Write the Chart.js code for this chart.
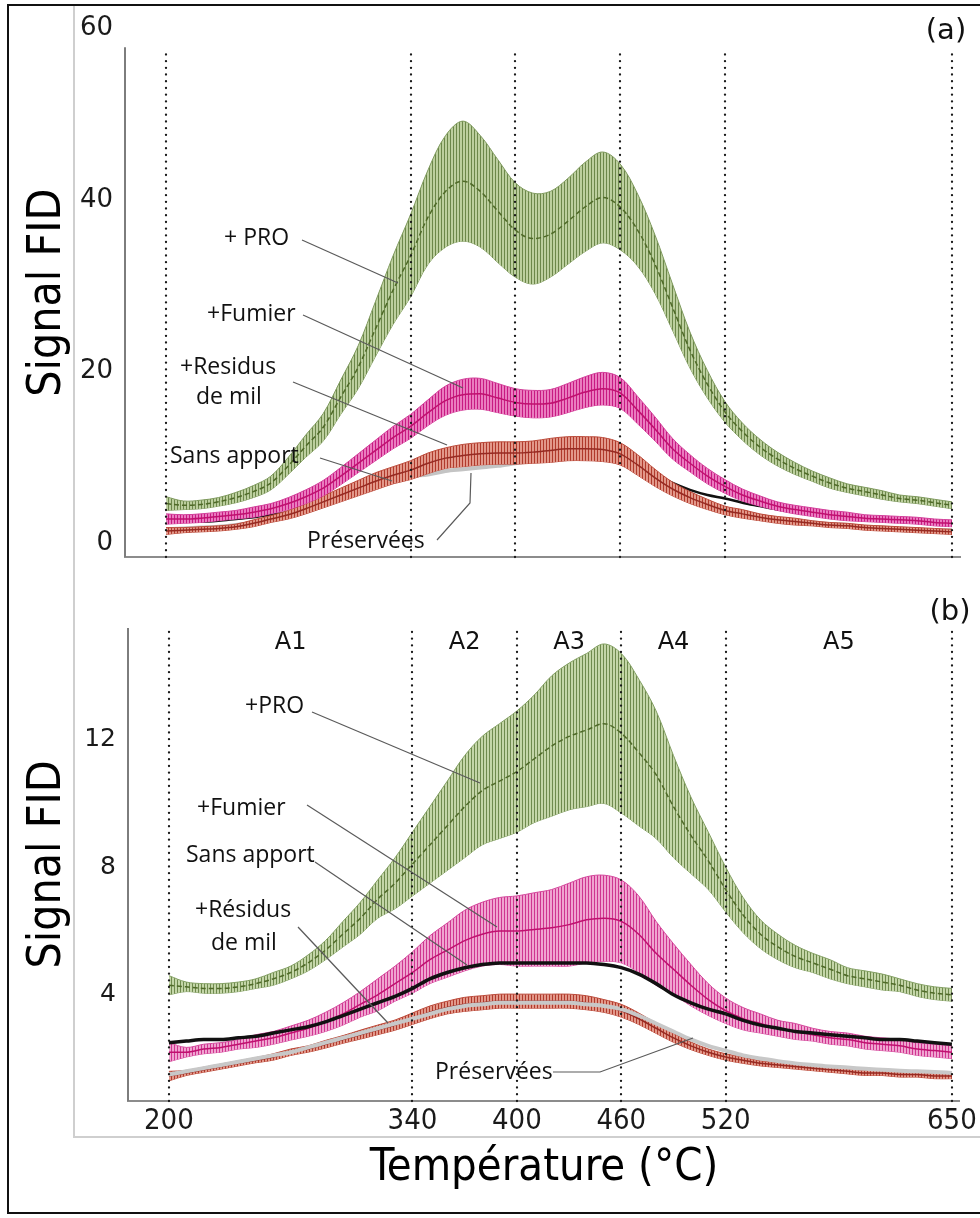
<!DOCTYPE html>
<html>
<head>
<meta charset="utf-8">
<script src="https://cdn.jsdelivr.net/npm/chart.js@4.4.0/dist/chart.umd.min.js"></script>
<style>
  body { margin: 0; background: #fff; width: 980px; height: 1218px; position: relative; overflow: hidden; }
  #outer { position: absolute; left: 7px; top: 4px; width: 975px; height: 1206px; border-left: 2px solid #111; border-top: 2px solid #111; border-bottom: 2px solid #111; }
  #inner { position: absolute; left: 73px; top: 6px; width: 910px; height: 1130px; border-left: 2px solid #cfcfcf; border-bottom: 2px solid #cfcfcf; }
  #ca { position: absolute; left: 0; top: 0; }
  #cb { position: absolute; left: 0; top: 590px; }
</style>
</head>
<body>
<div id="outer"></div>
<div id="inner"></div>
<canvas id="ca" width="980" height="590"></canvas>
<canvas id="cb" width="980" height="628"></canvas>
<script>
// Température (°C), un point tous les 10 °C
const temps = [200,210,220,230,240,250,260,270,280,290,300,310,320,330,340,350,360,370,380,390,400,410,420,430,440,450,460,470,480,490,500,510,520,530,540,550,560,570,580,590,600,610,620,630,640,650];

// (a) Signal FID
const proA = [4.6,4.4,4.5,4.8,5.3,6.0,7.0,9.0,11.3,13.5,17.0,20.5,25.0,29.5,33.5,38.0,41.0,42.2,41.0,38.7,36.5,35.5,36.0,37.5,39.2,40.3,39.2,36.5,32.5,27.5,22.5,18.5,15.3,13.0,11.2,9.8,8.7,7.8,7.0,6.4,6.0,5.6,5.2,5.0,4.7,4.4];
const proAErr = [0.8,0.5,0.5,0.5,0.6,0.7,0.8,1.0,1.3,1.6,2.0,2.5,3.2,4.0,4.8,5.5,6.5,7.0,6.5,6.0,5.5,5.3,5.0,5.0,5.2,5.3,5.0,4.2,3.4,2.7,2.1,1.6,1.2,1.0,0.9,0.8,0.7,0.6,0.6,0.5,0.5,0.5,0.4,0.4,0.4,0.4];
const fumierA = [2.8,2.8,2.9,3.1,3.3,3.6,4.0,4.6,5.4,6.4,7.8,9.3,10.8,12.3,13.6,15.2,16.6,17.3,17.4,16.9,16.4,16.2,16.3,16.9,17.6,18.0,17.5,15.5,13.3,11.0,9.3,7.8,6.6,5.6,4.9,4.3,3.9,3.6,3.3,3.1,2.9,2.8,2.7,2.6,2.4,2.3];
const fumierAErr = [0.6,0.5,0.5,0.5,0.5,0.6,0.6,0.7,0.8,0.9,1.0,1.1,1.2,1.3,1.4,1.5,1.7,1.8,1.8,1.7,1.6,1.6,1.6,1.7,1.8,1.9,1.8,1.6,1.4,1.2,1.0,0.9,0.8,0.7,0.6,0.5,0.5,0.5,0.5,0.5,0.4,0.4,0.4,0.4,0.4,0.4];
const residusA = [1.4,1.5,1.6,1.7,1.9,2.3,2.8,3.3,4.0,4.8,5.6,6.4,7.2,7.9,8.5,9.3,9.9,10.2,10.4,10.5,10.5,10.6,10.8,11.0,11.0,10.9,10.4,9.1,7.6,6.3,5.3,4.5,3.8,3.4,3.0,2.7,2.5,2.3,2.1,2.0,1.8,1.7,1.6,1.5,1.4,1.3];
const residusAErr = [0.4,0.3,0.3,0.3,0.3,0.4,0.4,0.5,0.6,0.7,0.8,0.9,1.0,1.0,1.1,1.2,1.2,1.3,1.3,1.3,1.3,1.3,1.4,1.4,1.4,1.4,1.3,1.2,1.0,0.8,0.7,0.6,0.5,0.5,0.4,0.4,0.4,0.3,0.3,0.3,0.3,0.3,0.3,0.3,0.3,0.3];
const sansA = [2.5,2.5,2.5,2.6,2.8,3.0,3.3,3.6,4.1,4.7,5.3,6.0,6.6,7.2,7.8,8.6,9.3,9.8,10.1,10.2,10.3,10.4,10.5,10.6,10.6,10.5,10.1,9.1,8.0,7.0,6.2,5.6,5.2,4.7,4.3,3.9,3.6,3.3,3.1,2.9,2.8,2.7,2.6,2.5,2.5,2.4];
const preservA = [1.6,1.7,1.8,1.9,2.1,2.4,2.8,3.3,3.9,4.6,5.3,6.0,6.7,7.3,7.8,8.0,8.4,8.6,8.8,9.0,9.3,9.6,9.9,10.0,10.0,10.0,9.7,8.9,7.7,6.5,5.5,4.7,4.0,3.5,3.1,2.8,2.6,2.4,2.2,2.1,1.9,1.8,1.7,1.6,1.5,1.5];

// (b) Signal FID
const proB = [4.3,4.25,4.2,4.2,4.25,4.35,4.5,4.7,5.0,5.4,5.9,6.4,7.0,7.5,8.1,8.7,9.3,9.9,10.4,10.7,11.0,11.4,11.8,12.1,12.3,12.5,12.2,11.6,10.9,9.9,9.0,8.2,7.3,6.5,5.9,5.5,5.2,5.0,4.8,4.6,4.5,4.4,4.3,4.15,4.05,4.0];
const proBErr = [0.3,0.15,0.15,0.15,0.15,0.15,0.2,0.2,0.25,0.3,0.4,0.5,0.6,0.8,1.0,1.2,1.4,1.6,1.7,1.8,1.9,2.0,2.2,2.3,2.4,2.5,2.5,2.3,2.0,1.6,1.2,0.9,0.7,0.55,0.45,0.4,0.35,0.3,0.3,0.25,0.25,0.25,0.2,0.2,0.2,0.2];
const fumierB = [2.2,2.2,2.3,2.35,2.45,2.55,2.65,2.8,2.95,3.15,3.4,3.7,4.0,4.35,4.7,5.1,5.4,5.7,5.9,6.0,6.0,6.05,6.1,6.2,6.35,6.4,6.3,5.9,5.3,4.8,4.3,3.85,3.5,3.25,3.1,2.95,2.85,2.75,2.65,2.6,2.5,2.45,2.4,2.3,2.25,2.2];
const fumierBErr = [0.3,0.15,0.15,0.15,0.15,0.2,0.2,0.22,0.25,0.3,0.35,0.4,0.5,0.55,0.65,0.75,0.85,0.95,1.0,1.05,1.1,1.15,1.2,1.3,1.35,1.35,1.3,1.2,1.0,0.8,0.65,0.5,0.4,0.35,0.3,0.25,0.25,0.2,0.2,0.2,0.2,0.2,0.2,0.2,0.2,0.2];
const residusB = [1.45,1.55,1.65,1.75,1.85,1.95,2.05,2.2,2.3,2.45,2.6,2.75,2.9,3.05,3.25,3.45,3.6,3.7,3.75,3.8,3.8,3.8,3.8,3.8,3.75,3.65,3.5,3.25,2.95,2.65,2.4,2.2,2.05,1.95,1.85,1.8,1.75,1.7,1.65,1.6,1.55,1.55,1.5,1.5,1.45,1.45];
const residusBErr = [0.15,0.08,0.08,0.08,0.08,0.08,0.1,0.1,0.1,0.12,0.12,0.14,0.15,0.16,0.18,0.2,0.2,0.22,0.22,0.22,0.22,0.22,0.22,0.22,0.22,0.2,0.2,0.18,0.16,0.14,0.12,0.1,0.1,0.1,0.08,0.08,0.08,0.08,0.08,0.08,0.08,0.08,0.08,0.08,0.08,0.08];
const sansB = [2.5,2.55,2.6,2.6,2.65,2.7,2.8,2.9,3.0,3.15,3.35,3.55,3.75,3.95,4.2,4.5,4.7,4.85,4.95,5.0,5.0,5.0,5.0,5.0,5.0,4.95,4.85,4.65,4.35,4.0,3.75,3.55,3.4,3.2,3.05,2.95,2.85,2.8,2.75,2.7,2.65,2.6,2.6,2.55,2.5,2.45];
const preservB = [1.5,1.6,1.7,1.8,1.9,2.0,2.1,2.2,2.35,2.5,2.65,2.8,2.95,3.1,3.25,3.4,3.55,3.65,3.7,3.75,3.75,3.75,3.75,3.75,3.7,3.65,3.55,3.35,3.1,2.85,2.6,2.4,2.25,2.1,2.0,1.92,1.85,1.8,1.75,1.72,1.68,1.65,1.62,1.6,1.58,1.55];

// ticks et zones
const xTicks = [200, 340, 400, 460, 520, 650];
const yTicksA = [0, 20, 40, 60];
const yTicksB = [4, 8, 12];
const zones = ['A1', 'A2', 'A3', 'A4', 'A5'];

const COND = "'DejaVu Sans Condensed', 'Liberation Sans Narrow', 'DejaVu Sans', sans-serif";
const VERD = "'DejaVu Sans', Verdana, sans-serif";
const LAB = "'Open Sans', 'Noto Sans', sans-serif";

function stripes(canvasId, base, line) {
  const c = document.createElement('canvas');
  c.width = 3; c.height = 4;
  const g = c.getContext('2d');
  g.fillStyle = base; g.fillRect(0, 0, 3, 4);
  g.fillStyle = line; g.fillRect(0, 0, 1, 4);
  return document.getElementById(canvasId).getContext('2d').createPattern(c, 'repeat');
}

function pts(vals) {
  return vals.map((v, i) => ({ x: temps[i], y: v }));
}

function line(label, vals, color, width, dash) {
  return { label: label, data: pts(vals), borderColor: color, borderWidth: width, borderDash: dash || [],
           pointRadius: 0, fill: false, tension: 0.35, cubicInterpolationMode: 'monotone' };
}

function band(label, mean, err, pattern, edge) {
  return [
    { label: label + ' haut', data: pts(mean.map((m, i) => m + err[i])), borderColor: edge, borderWidth: 1,
      backgroundColor: pattern, fill: '+1', pointRadius: 0, tension: 0.35 },
    { label: label + ' bas', data: pts(mean.map((m, i) => m - err[i])), borderColor: edge, borderWidth: 1,
      fill: false, pointRadius: 0, tension: 0.35 }
  ];
}

// lignes pointillées, axe y, étiquettes et traits de rappel
const decor = {
  id: 'decor',
  afterDatasetsDraw(chart, args, o) {
    const { ctx, chartArea, scales: { x, y } } = chart;
    ctx.save();
    ctx.strokeStyle = '#1a1a1a';
    ctx.lineWidth = 2.3;
    ctx.lineCap = 'round';
    ctx.setLineDash([0.1, 6.6]);
    xTicks.forEach(t => {
      const px = Math.round(x.getPixelForValue(t));
      ctx.beginPath();
      ctx.moveTo(px, chartArea.bottom);
      ctx.lineTo(px, o.dotTop);
      ctx.stroke();
    });
    ctx.setLineDash([]);
    ctx.lineCap = 'butt';

    // axe y
    ctx.strokeStyle = '#7d7d7d';
    ctx.lineWidth = 2;
    ctx.beginPath();
    ctx.moveTo(chartArea.left, chartArea.bottom);
    ctx.lineTo(chartArea.left, y.getPixelForValue(o.axisTop));
    ctx.stroke();

    // traits de rappel
    ctx.strokeStyle = '#5a5a5a';
    ctx.lineWidth = 1.2;
    o.leaders.forEach(p => {
      ctx.beginPath();
      ctx.moveTo(p[0], p[1]);
      for (let i = 2; i < p.length; i += 2) ctx.lineTo(p[i], p[i + 1]);
      ctx.stroke();
    });

    ctx.fillStyle = '#111';
    ctx.textBaseline = 'middle';
    ctx.textAlign = 'left';
    ctx.font = '23px ' + LAB;
    o.labels.forEach(l => ctx.fillText(l[0], l[1], l[2]));

    ctx.textAlign = 'center';
    ctx.font = '29px ' + VERD;
    ctx.fillText(o.letter[0], o.letter[1], o.letter[2]);

    if (o.zonesY) {
      ctx.font = '24px ' + VERD;
      zones.forEach((z, i) => {
        const mid = (xTicks[i] + xTicks[i + 1]) / 2;
        ctx.fillText(z, x.getPixelForValue(mid), o.zonesY);
      });
    }
    ctx.restore();
  }
};

function options(yMin, yMax, yTicks, yW, yFont, showX, xH, pad, deco) {
  return {
    responsive: false,
    animation: false,
    devicePixelRatio: 1,
    layout: { padding: pad },
    plugins: { legend: { display: false }, tooltip: { enabled: false }, decor: deco },
    scales: {
      x: {
        type: 'linear', min: 176.5, max: 654.6,
        afterBuildTicks: s => { s.ticks = xTicks.map(v => ({ value: v })); },
        afterFit: s => { s.height = xH; },
        grid: { display: false, drawTicks: false },
        border: { display: true, color: '#8c8c8c', width: 2 },
        ticks: { display: showX, autoSkip: false, maxRotation: 0, padding: 3, color: '#1a1a1a',
                 font: { family: COND, size: 29 } },
        title: { display: showX, text: 'Température (°C)', color: '#000',
                 font: { family: COND, size: 45 }, padding: { top: 0, bottom: 23 } }
      },
      y: {
        type: 'linear', min: yMin, max: yMax,
        afterBuildTicks: s => { s.ticks = yTicks.map(v => ({ value: v })); },
        afterFit: s => { s.width = yW; },
        grid: { display: false, drawTicks: false },
        border: { display: false },
        ticks: { padding: 12, color: '#1a1a1a', font: { family: VERD, size: yFont } },
        title: { display: true, text: 'Signal FID', color: '#000',
                 font: { family: COND, size: 46 }, padding: { top: 20, bottom: 0 } }
      }
    }
  };
}

// (a)
const dataA = [].concat(
  [line('+ PRO', proA, '#4f6a28', 1.5, [5, 3])],
  band('+ PRO', proA, proAErr, stripes('ca', '#bccf9e', '#6c874a'), '#7f9a5e'),
  [line('+Fumier', fumierA, '#c0106f', 1.5)],
  band('+Fumier', fumierA, fumierAErr, stripes('ca', '#ea7cbf', '#c81a82'), '#d2409a'),
  [line('+Residus de mil', residusA, '#962a22', 1.5)],
  band('+Residus de mil', residusA, residusAErr, stripes('ca', '#e2988a', '#b03a2c'), '#bb4a3a'),
  [line('Sans apport', sansA, '#111111', 2.5)],
  [line('Préservées', preservA, '#c4c4c4', 4)]
);

new Chart(document.getElementById('ca'), {
  type: 'line',
  data: { datasets: dataA },
  plugins: [decor],
  options: options(-1.63, 60, yTicksA, 125, 26, false, 0, { left: 0, right: 20, top: 28.5, bottom: 33 }, {
    dotTop: 50, axisTop: 57.8, zonesY: null,
    letter: ['(a)', 946, 31],
    labels: [['+ PRO', 224, 238], ['+Fumier', 207, 314], ['+Residus', 180, 367], ['de mil', 196, 397],
             ['Sans apport', 170, 456], ['Préservées', 307, 541]],
    leaders: [[302, 240, 398, 283], [303, 315, 463, 388], [293, 382, 447, 445], [320, 458, 392, 481],
              [437, 540, 470, 503, 471, 473]]
  })
});

// (b)
const dataB = [].concat(
  [line('+PRO', proB, '#4f6a28', 1.5, [5, 3])],
  band('+PRO', proB, proBErr, stripes('cb', '#c4d6a8', '#6f8a4e'), '#84a064'),
  [line('Sans apport', sansB, '#111111', 3.5)],
  [line('+Fumier', fumierB, '#c0106f', 1.5)],
  band('+Fumier', fumierB, fumierBErr, stripes('cb', '#f0a4d0', '#cf3590'), '#d4489c'),
  [line('Préservées', preservB, '#c8c8c8', 4)],
  [line('+Résidus de mil', residusB, '#962a22', 1.5)],
  band('+Résidus de mil', residusB, residusBErr, stripes('cb', '#e2988a', '#b03a2c'), '#bb4a3a')
);

new Chart(document.getElementById('cb'), {
  type: 'line',
  data: { datasets: dataB },
  plugins: [decor],
  options: options(0.67, 15.5, yTicksB, 128, 25, true, 117, { left: 0, right: 20, top: 38, bottom: 0 }, {
    dotTop: 40, axisTop: 15.5, zonesY: 53,
    letter: ['(b)', 950, 22],
    labels: [['+PRO', 245, 116], ['+Fumier', 197, 218], ['Sans apport', 186, 265], ['+Résidus', 195, 320],
             ['de mil', 211, 353], ['Préservées', 435, 482]],
    leaders: [[312, 122, 480, 193], [307, 215, 497, 337], [315, 272, 467, 375], [298, 337, 388, 433],
              [553, 482, 600, 482, 693, 448]]
  })
});
</script>
</body>
</html>
